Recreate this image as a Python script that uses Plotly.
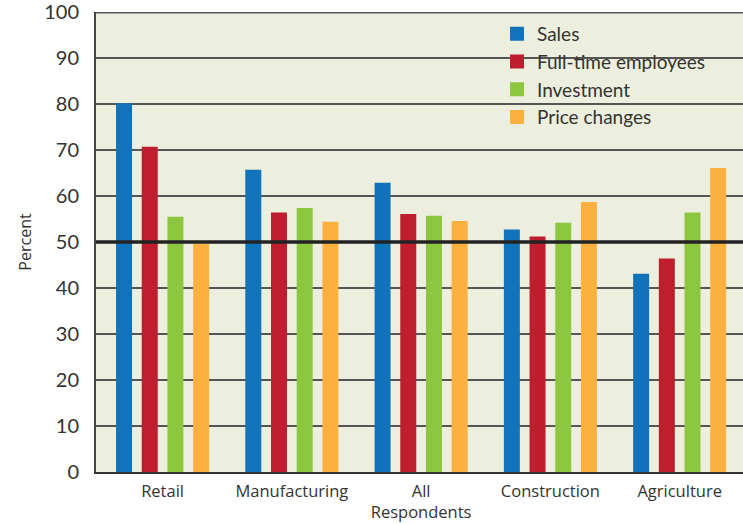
import plotly.graph_objects as go

categories = ["Retail", "Manufacturing", "All<br>Respondents", "Construction", "Agriculture"]
sales = [80.0, 65.5, 62.7, 52.5, 42.9]
full_time = [70.5, 56.2, 55.9, 51.0, 46.2]
investment = [55.3, 57.2, 55.5, 54.0, 56.2]
price_changes = [49.4, 54.2, 54.4, 58.5, 65.9]
y_ticks = [0, 10, 20, 30, 40, 50, 60, 70, 80, 90, 100]

series = [
    ("Sales", sales, "#1174bb"),
    ("Full-time employees", full_time, "#be1e2d"),
    ("Investment", investment, "#8dc63f"),
    ("Price changes", price_changes, "#fbb040"),
]

PLOT_BG = "#edefde"
W, H = 743, 524
L, R, T, B = 96, 0, 12, 52

fig = go.Figure()
for name, vals, col in series:
    fig.add_trace(go.Bar(
        x=categories, y=vals, name=name,
        marker=dict(color=col, line=dict(color=col, width=2)),
        hoverinfo="skip",
    ))

pw = W - L - R
ph = H - T - B

def px_x(p):
    return (p - L) / pw

def px_y(p):
    return 1 - (p - T) / ph

shapes = [
    # legend background hiding grid lines
    dict(type="rect", xref="paper", yref="paper",
         x0=px_x(482), x1=1.0, y0=px_y(147), y1=px_y(15),
         fillcolor=PLOT_BG, line=dict(width=0), layer="between"),
    # top border line
    dict(type="line", xref="paper", yref="y", x0=0, x1=1, y0=100, y1=100,
         line=dict(color="#555555", width=2.5), layer="above"),
    # 50 percent reference line
    dict(type="line", xref="paper", yref="y", x0=0, x1=1, y0=50, y1=50,
         line=dict(color="#222222", width=3.5), layer="above"),
]

fig.update_layout(
    width=W, height=H,
    margin=dict(l=L, r=R, t=T, b=B, autoexpand=False),
    paper_bgcolor="white",
    plot_bgcolor=PLOT_BG,
    barmode="group",
    bargap=0.205,
    bargroupgap=0.455,
    shapes=shapes,
    legend=dict(
        x=px_x(497), y=px_y(15), xanchor="left", yanchor="top",
        bgcolor="rgba(0,0,0,0)",
        font=dict(family="Lato", size=19, color="#333333"),
        tracegroupgap=0, itemclick=False,
    ),
    xaxis=dict(
        type="category",
        range=[-0.515, 4.49],
        showgrid=False,
        showline=True, linecolor="#333333", linewidth=2,
        layer="below traces",
        ticks="", ticklabelstandoff=3,
        tickfont=dict(family="Open Sans", size=16.5, color="#333333"),
        automargin=False,
        ticklabeloverflow="allow",
        fixedrange=True,
    ),
    yaxis=dict(
        range=[0, 100.05],
        tickvals=y_ticks,
        showgrid=True, gridcolor="#555555", gridwidth=2,
        zeroline=False,
        showline=True, linecolor="#444444", linewidth=2,
        layer="below traces",
        ticks="", ticklabelstandoff=11,
        tickfont=dict(family="Lato", size=20, color="#333333"),
        title=dict(text="Percent", font=dict(family="Open Sans", size=16, color="#333333"), standoff=9),
        automargin=False,
        ticklabeloverflow="allow",
        fixedrange=True,
    ),
    showlegend=True,
)

fig.write_html(
    "out.html",
    config={"displayModeBar": False},
    post_script="document.body.style.margin='0';document.body.style.overflow='hidden';",
)
